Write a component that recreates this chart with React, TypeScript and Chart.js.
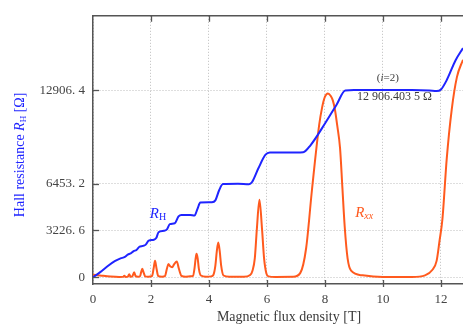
import React, { useEffect, useRef } from "react";
import { Chart, registerables } from "chart.js";

Chart.register(...registerables);

// Hall resistance R_H (blue) – magnetic field [T] and resistance [Ω]
const hallB = [0, 0.25, 0.5, 0.75, 0.95, 1.1, 1.2, 1.3, 1.4, 1.5, 1.6, 1.72, 1.82, 1.92, 2.1, 2.18, 2.26, 2.45, 2.55, 2.65, 2.82, 2.95, 3.05, 3.35, 3.5, 3.6, 3.7, 4.1, 4.22, 4.35, 4.48, 5.0, 5.38, 5.48, 5.7, 5.95, 6.1, 7.0, 7.25, 7.5, 8.0, 8.4, 8.7, 9.0, 11.0, 11.6, 11.85, 12.0, 12.2, 12.5, 12.76];
const hallR = [0, 350, 760, 1110, 1300, 1400, 1560, 1640, 1800, 1880, 2100, 2160, 2250, 2530, 2590, 2700, 3100, 3200, 3300, 3660, 3720, 4200, 4300, 4300, 4250, 4700, 5150, 5170, 5300, 6000, 6430, 6453, 6420, 6550, 7500, 8450, 8600, 8604, 8620, 9100, 10600, 11900, 12880, 12906, 12906, 12880, 12840, 12950, 13600, 14950, 15800];

// Longitudinal resistance R_xx (orange), same scale
const rxxB = [0, 0.3, 0.6, 0.9, 1.04, 1.08, 1.13, 1.2, 1.25, 1.3, 1.36, 1.42, 1.47, 1.55, 1.62, 1.66, 1.7, 1.75, 1.8, 1.9, 2.04, 2.09, 2.14, 2.19, 2.25, 2.38, 2.48, 2.55, 2.6, 2.66, 2.73, 2.8, 2.89, 2.96, 3.05, 3.2, 3.35, 3.45, 3.5, 3.54, 3.57, 3.61, 3.65, 3.72, 3.9, 4.08, 4.15, 4.22, 4.27, 4.32, 4.37, 4.42, 4.5, 4.7, 5.2, 5.42, 5.5, 5.58, 5.65, 5.74, 5.83, 5.9, 5.98, 6.05, 6.3, 6.9, 7.15, 7.35, 7.55, 7.8, 7.9, 8.0, 8.1, 8.2, 8.27, 8.34, 8.42, 8.52, 8.6, 8.68, 8.78, 8.9, 9.3, 10.0, 11.0, 11.45, 11.7, 11.85, 11.95, 12.05, 12.2, 12.37, 12.55, 12.76];
const rxxR = [180, 110, 50, 20, 30, 110, 20, 40, 200, 30, 80, 350, 80, 40, 60, 350, 580, 300, 60, 40, 100, 600, 1130, 600, 80, 40, 80, 600, 910, 750, 690, 900, 1085, 600, 100, 40, 60, 100, 600, 1300, 1620, 1300, 600, 120, 40, 60, 150, 800, 1800, 2390, 1800, 800, 120, 30, 30, 150, 450, 1300, 3300, 5350, 3300, 1300, 250, 60, 20, 30, 300, 2000, 6000, 10500, 11700, 12450, 12680, 12500, 12200, 11600, 10500, 8900, 6200, 3500, 1300, 450, 130, 20, 20, 130, 500, 1130, 2500, 4000, 8200, 11550, 13800, 15000];

const xTicks = [0, 2, 4, 6, 8, 10, 12];
const yTicks = [0, 3226.6, 6453.2, 12906.4];
const yTickLabels = ["0", "3226. 6", "6453. 2", "12906. 4"];

const xTitle = "Magnetic flux density [T]";
const yTitleMain = "Hall resistance ";
const plateauValue = "12 906.403 5 Ω";

const BLUE = "#1f24ff";
const ORANGE = "#ff5a1e";
const SERIF = "'Liberation Serif', 'DejaVu Serif', serif";
const AXIS = "#555555";
const TEXT = "#3a3a3a";

function drawRich(ctx: CanvasRenderingContext2D, parts: { t: string; font: string; dy?: number; color: string }[], x: number, y: number, align: "left" | "center") {
  let total = 0;
  for (const p of parts) {
    ctx.font = p.font;
    total += ctx.measureText(p.t).width;
  }
  let cx = align === "center" ? x - total / 2 : x;
  for (const p of parts) {
    ctx.font = p.font;
    ctx.fillStyle = p.color;
    ctx.fillText(p.t, cx, y + (p.dy || 0));
    cx += ctx.measureText(p.t).width;
  }
}

const decor = {
  id: "decor",
  afterDatasetsDraw(chart: any) {
    const { ctx, chartArea: a, scales } = chart;
    const xs = scales.x;
    const ys = scales.y;
    ctx.save();
    // top border
    ctx.strokeStyle = AXIS;
    ctx.lineWidth = 1.5;
    ctx.beginPath();
    ctx.moveTo(a.left, a.top);
    ctx.lineTo(a.right, a.top);
    ctx.stroke();
    // inward ticks
    ctx.lineWidth = 1.3;
    for (const v of xTicks) {
      if (v === 0) continue;
      const px = Math.round(xs.getPixelForValue(v)) + 0.5;
      ctx.beginPath();
      ctx.moveTo(px, a.bottom + 3);
      ctx.lineTo(px, a.bottom - 4);
      ctx.moveTo(px, a.top);
      ctx.lineTo(px, a.top + 6);
      ctx.stroke();
    }
    for (const v of yTicks) {
      const py = Math.round(ys.getPixelForValue(v)) + 0.5;
      ctx.beginPath();
      ctx.moveTo(a.left - 1, py);
      ctx.lineTo(a.left + 6, py);
      ctx.stroke();
    }
    ctx.textBaseline = "alphabetic";
    // R_H label
    drawRich(ctx, [
      { t: "R", font: `italic 15px ${SERIF}`, color: BLUE },
      { t: "H", font: `10px ${SERIF}`, dy: 2, color: BLUE },
    ], xs.getPixelForValue(1.96), ys.getPixelForValue(4100), "left");
    // R_xx label
    drawRich(ctx, [
      { t: "R", font: `italic 15px ${SERIF}`, color: ORANGE },
      { t: "xx", font: `italic 10px ${SERIF}`, dy: 2, color: ORANGE },
    ], xs.getPixelForValue(9.04), ys.getPixelForValue(4150), "left");
    // plateau annotation
    drawRich(ctx, [
      { t: "(", font: `11px ${SERIF}`, color: TEXT },
      { t: "i", font: `italic 11px ${SERIF}`, color: TEXT },
      { t: "=2)", font: `11px ${SERIF}`, color: TEXT },
    ], xs.getPixelForValue(10.17), ys.getPixelForValue(13530), "center");
    drawRich(ctx, [
      { t: plateauValue, font: `12px ${SERIF}`, color: TEXT },
    ], xs.getPixelForValue(10.4), ys.getPixelForValue(12240), "center");
    // x title
    drawRich(ctx, [
      { t: xTitle, font: `14px ${SERIF}`, color: TEXT },
    ], xs.getPixelForValue(6.76), 321, "center");
    // y title (rotated)
    ctx.translate(19, (a.top + a.bottom) / 2 + 5);
    ctx.rotate(-Math.PI / 2);
    drawRich(ctx, [
      { t: yTitleMain, font: `14px ${SERIF}`, color: BLUE },
      { t: "R", font: `italic 14px ${SERIF}`, color: BLUE },
      { t: "H", font: `9px ${SERIF}`, dy: 2, color: BLUE },
      { t: " [Ω]", font: `14px ${SERIF}`, color: BLUE },
    ], 0, 5, "center");
    ctx.restore();
  },
};

export default function App() {
  const ref = useRef<HTMLCanvasElement | null>(null);
  useEffect(() => {
    document.body.style.margin = "0";
    const canvas = ref.current;
    if (!canvas) return;
    const chart = new Chart(canvas, {
      type: "line",
      data: {
        datasets: [
          {
            label: "R_H",
            data: hallB.map((b, i) => ({ x: b, y: hallR[i] })),
            borderColor: BLUE,
            borderWidth: 2,
            pointRadius: 0,
            cubicInterpolationMode: "monotone",
            fill: false,
            order: 0,
          },
          {
            label: "R_xx",
            data: rxxB.map((b, i) => ({ x: b, y: rxxR[i] })),
            borderColor: ORANGE,
            borderWidth: 2,
            pointRadius: 0,
            cubicInterpolationMode: "monotone",
            fill: false,
            order: 1,
          },
        ],
      },
      options: {
        animation: false,
        responsive: false,
        devicePixelRatio: 1,
        layout: { padding: { top: 6, left: 0, right: 0, bottom: 0 } },
        plugins: { legend: { display: false }, tooltip: { enabled: false }, title: { display: false } },
        events: [],
        scales: {
          x: {
            type: "linear",
            min: 0,
            max: 12.76,
            afterBuildTicks: (s: any) => {
              s.ticks = xTicks.map((v) => ({ value: v }));
            },
            afterFit: (s: any) => {
              s.height = 41;
            },
            ticks: {
              autoSkip: false,
              maxRotation: 0,
              padding: 8,
              color: "#444",
              font: { family: SERIF, size: 13 },
            },
            grid: { color: "#bdbdbd", lineWidth: 1, drawTicks: false },
            border: { display: true, color: AXIS, width: 1.5, dash: [1, 2] },
          },
          y: {
            type: "linear",
            min: -466,
            max: 18030,
            afterBuildTicks: (s: any) => {
              s.ticks = yTicks.map((v) => ({ value: v }));
            },
            afterFit: (s: any) => {
              s.width = 93;
            },
            ticks: {
              autoSkip: false,
              padding: 8,
              color: "#444",
              font: { family: SERIF, size: 13 },
              callback: (v: any) => {
                const i = yTicks.indexOf(Number(v));
                return i >= 0 ? yTickLabels[i] : "";
              },
            },
            grid: { color: "#bdbdbd", lineWidth: 1, drawTicks: false },
            border: { display: true, color: AXIS, width: 1.5, dash: [1, 2] },
          },
        },
      },
      plugins: [decor],
    } as any);
    return () => chart.destroy();
  }, []);
  return (
    <div style={{ position: "fixed", left: 0, top: 0, width: 463, height: 325, background: "#fff" }}>
      <canvas ref={ref} width={463} height={325} style={{ width: 463, height: 325, display: "block" }} />
    </div>
  );
}
